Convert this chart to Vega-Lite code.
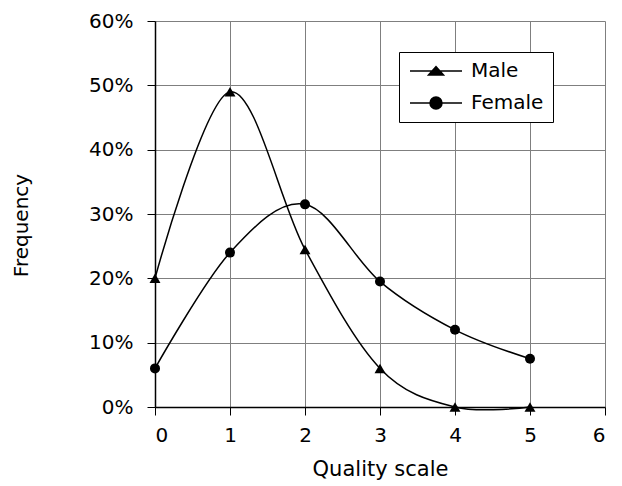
{
  "$schema": "https://vega.github.io/schema/vega-lite/v6.json",
  "autosize": "none",
  "width": 450,
  "height": 386,
  "padding": {"left": 155, "top": 21, "right": 17, "bottom": 79},
  "background": "white",
  "config": {
    "font": "DejaVu Sans",
    "view": {"stroke": null},
    "legend": {"symbolStrokeColor": "black", "symbolStrokeWidth": 1.5},
    "axis": {
      "gridColor": "#7f7f7f",
      "gridWidth": 1,
      "domainColor": "black",
      "domainWidth": 1.5,
      "tickColor": "black",
      "tickSize": 8,
      "labelFont": "DejaVu Sans",
      "labelFontSize": 20,
      "labelColor": "black",
      "titleFont": "DejaVu Sans",
      "titleFontWeight": "normal",
      "titleFontSize": 21,
      "titleColor": "black"
    }
  },
  "data": {
    "values": [
      {"series": "Male", "quality": 0, "freq": 0.20},
      {"series": "Male", "quality": 1, "freq": 0.49},
      {"series": "Male", "quality": 2, "freq": 0.245},
      {"series": "Male", "quality": 3, "freq": 0.06},
      {"series": "Male", "quality": 4, "freq": 0.0},
      {"series": "Male", "quality": 5, "freq": 0.0},
      {"series": "Female", "quality": 0, "freq": 0.06},
      {"series": "Female", "quality": 1, "freq": 0.24},
      {"series": "Female", "quality": 2, "freq": 0.315},
      {"series": "Female", "quality": 3, "freq": 0.195},
      {"series": "Female", "quality": 4, "freq": 0.12},
      {"series": "Female", "quality": 5, "freq": 0.075}
    ]
  },
  "encoding": {
    "x": {
      "field": "quality",
      "type": "quantitative",
      "scale": {"domain": [0, 6], "nice": false},
      "axis": {"values": [0, 1, 2, 3, 4, 5, 6], "title": "Quality scale", "labelPadding": 10, "titleY": 51}
    },
    "y": {
      "field": "freq",
      "type": "quantitative",
      "scale": {"domain": [0, 0.6], "nice": false},
      "axis": {"values": [0, 0.1, 0.2, 0.3, 0.4, 0.5, 0.6], "format": ".0%", "title": "Frequency", "labelPadding": 14, "titleX": -124, "titleY": 204, "titleFontSize": 20}
    }
  },
  "layer": [
    {
      "mark": {"type": "line", "interpolate": "cardinal", "color": "black", "strokeWidth": 1.5},
      "encoding": {"detail": {"field": "series"}}
    },
    {
      "transform": [{"filter": "datum.series === 'Male'"}],
      "mark": {"type": "point", "shape": "triangle-up", "filled": true, "color": "black", "opacity": 1, "size": 120}
    },
    {
      "transform": [{"filter": "datum.series === 'Female'"}],
      "mark": {"type": "point", "shape": "circle", "filled": true, "color": "black", "opacity": 1, "size": 100}
    },
    {
      "mark": {"type": "point", "filled": false, "color": "black", "strokeWidth": 1.5, "opacity": 0, "size": 256},
      "encoding": {
        "shape": {
          "field": "series",
          "scale": {
            "domain": ["Male", "Female"],
            "range": [
              "M-1,0L5.5,0M1.31,0.5L2.25,-0.56L3.19,0.5ZM2.108,-0.4L2.392,-0.4M1.975,-0.25L2.525,-0.25M1.842,-0.1L2.658,-0.1M1.709,0.05L2.791,0.05M1.576,0.2L2.924,0.2M1.443,0.35L3.057,0.35",
              "M-1,0L5.5,0M1.5,0A0.75,0.75 0 1,0 3,0A0.75,0.75 0 1,0 1.5,0ZM1.8,-0.6L2.7,-0.6M1.65,-0.45L2.85,-0.45M1.563,-0.3L2.937,-0.3M1.515,-0.15L2.985,-0.15M1.515,0.15L2.985,0.15M1.563,0.3L2.937,0.3M1.65,0.45L2.85,0.45M1.8,0.6L2.7,0.6"
            ]
          },
          "legend": {
            "title": null,
            "orient": "none",
            "legendX": 244,
            "legendY": 31,
            "strokeColor": "black",
            "fillColor": "white",
            "padding": 9,
            "rowPadding": 12,
            "symbolSize": 256,
            "labelFont": "DejaVu Sans",
            "labelFontSize": 20,
            "labelColor": "black",
            "labelOffset": 43
          }
        }
      }
    }
  ]
}
